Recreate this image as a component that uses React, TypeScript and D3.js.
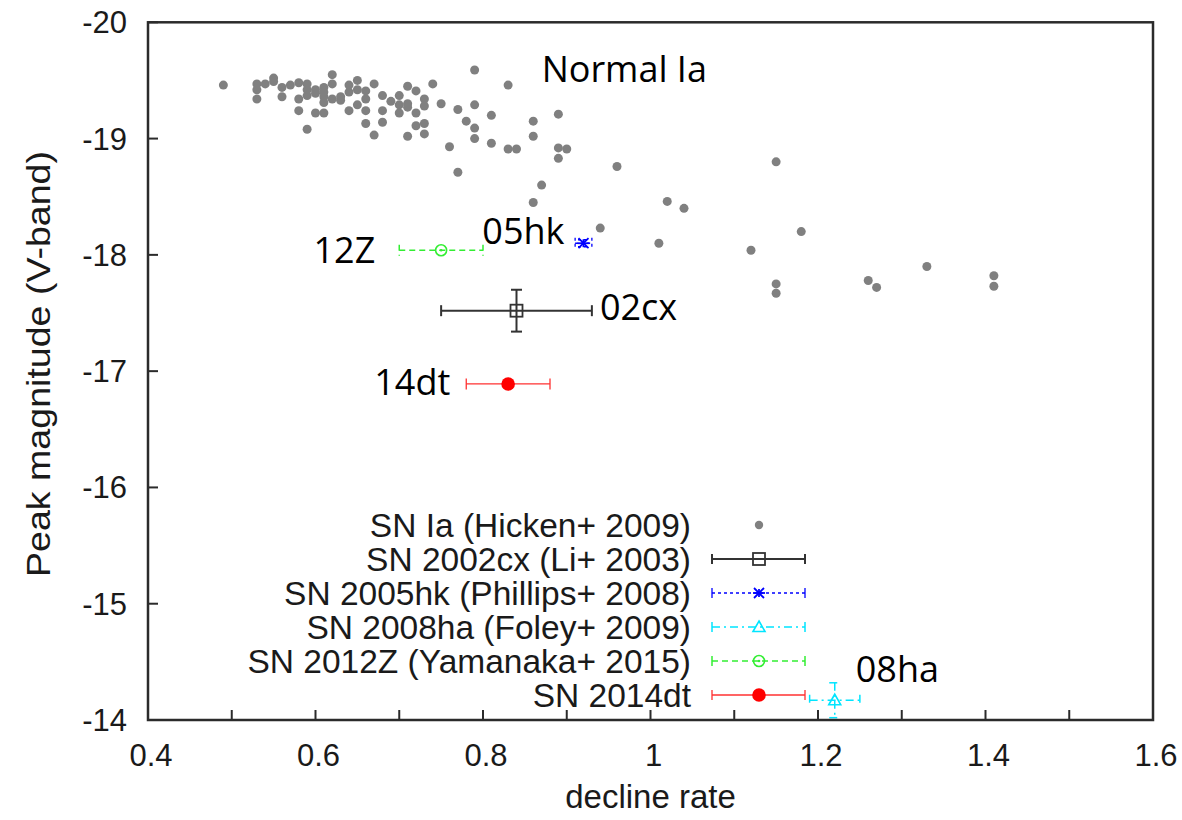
import React from 'react';
import * as d3 from 'd3';

// ---- Data ----
const iaDecline = [
  0.49, 0.53, 0.53, 0.53, 0.54, 0.55, 0.55, 0.56, 0.56, 0.57, 0.58, 0.58, 0.58, 0.59, 0.59, 0.59, 0.59,
  0.60, 0.60, 0.60, 0.61, 0.61, 0.61, 0.61, 0.61, 0.62, 0.62, 0.62, 0.63, 0.63, 0.64, 0.64, 0.64,
  0.65, 0.65, 0.65, 0.66, 0.66, 0.66, 0.66, 0.67, 0.67, 0.68, 0.68, 0.68, 0.69, 0.70, 0.70, 0.70,
  0.71, 0.71, 0.71, 0.71, 0.72, 0.72, 0.72, 0.73, 0.73, 0.73, 0.73, 0.74, 0.75, 0.76, 0.77, 0.77,
  0.78, 0.79, 0.79, 0.79, 0.79, 0.81, 0.81, 0.83, 0.83, 0.84, 0.86, 0.86, 0.86, 0.87, 0.89, 0.89,
  0.89, 0.90, 0.94, 0.96, 1.01, 1.02, 1.04, 1.12, 1.15, 1.15, 1.15, 1.18, 1.26, 1.27, 1.33, 1.41, 1.41,
];
const iaMag = [
  -19.46, -19.47, -19.42, -19.34, -19.47, -19.52, -19.49, -19.44, -19.36, -19.46, -19.48, -19.34, -19.24, -19.47, -19.42, -19.37, -19.08,
  -19.42, -19.39, -19.22, -19.44, -19.40, -19.36, -19.31, -19.22, -19.55, -19.47, -19.34, -19.36, -19.33, -19.46, -19.40, -19.24,
  -19.50, -19.42, -19.29, -19.41, -19.34, -19.24, -19.13, -19.47, -19.03, -19.37, -19.24, -19.14, -19.32, -19.37, -19.29, -19.22,
  -19.45, -19.30, -19.27, -19.02, -19.41, -19.22, -19.11, -19.34, -19.28, -19.13, -19.04, -19.47, -19.30, -18.93, -19.25, -18.71,
  -19.15, -19.59, -19.29, -19.09, -19.00, -19.20, -18.96, -19.46, -18.91, -18.91, -19.15, -19.02, -18.45, -18.60, -19.21, -18.92,
  -18.83, -18.91, -18.23, -18.76, -18.10, -18.46, -18.40, -18.04, -18.80, -17.75, -17.67, -18.20, -17.78, -17.72, -17.90, -17.82, -17.73,
];

const snNames = ['02cx', '05hk', '08ha', '12Z', '14dt'];
const snDecline = [0.84, 0.92, 1.22, 0.75, 0.83];
const snMag = [-17.52, -18.10, -14.17, -18.04, -16.89];
const snDeclineErr = [0.09, 0.01, 0.03, 0.05, 0.05];
const snMagErr = [0.18, 0.03, 0.15, 0, 0];

const legendLabels = [
  'SN Ia (Hicken+ 2009)',
  'SN 2002cx (Li+ 2003)',
  'SN 2005hk (Phillips+ 2008)',
  'SN 2008ha (Foley+ 2009)',
  'SN 2012Z (Yamanaka+ 2015)',
  'SN 2014dt',
];

const xTicks = [0.4, 0.5, 0.6, 0.7, 0.8, 0.9, 1.0, 1.1, 1.2, 1.3, 1.4, 1.5, 1.6];
const xTickLabels = ['0.4', '', '0.6', '', '0.8', '', '1', '', '1.2', '', '1.4', '', '1.6'];
const yTicks = [-20, -19, -18, -17, -16, -15, -14];

const normalLabel = { text: 'Normal Ia', d: 0.87, m: -19.49 };

// ---- Styles ----
type Sty = { color: string; dash: string; width: number; marker: string };
const snStyles: Sty[] = [
  { color: '#333333', dash: '', width: 2, marker: 'square' },
  { color: '#0000ff', dash: '3,3', width: 1.3, marker: 'star' },
  { color: '#00e5ff', dash: '8,4,2,4', width: 1.5, marker: 'triangle' },
  { color: '#33ee33', dash: '6,4', width: 1.5, marker: 'circle' },
  { color: '#ff3030', dash: '', width: 1.3, marker: 'dot' },
];
// legend order: Ia, 02cx, 05hk, 08ha, 12Z, 14dt
const legendSeries = [-1, 0, 1, 2, 3, 4];

const W = 1182;
const H = 820;
const L = 148, R = 1153, T = 22.3, B = 720;

const x = d3.scaleLinear().domain([0.4, 1.6]).range([L, R]);
const y = d3.scaleLinear().domain([-20, -14]).range([T, B]);

const TICK_FONT = '"Liberation Sans", Arial, Helvetica, sans-serif';
const ANN_FONT = '"Open Sans", "Noto Sans", sans-serif';

function Marker({ cx, cy, sty }: { cx: number; cy: number; sty: Sty }) {
  const c = sty.color;
  switch (sty.marker) {
    case 'square':
      return <rect x={cx - 6} y={cy - 6} width={12} height={12} fill="none" stroke={c} strokeWidth={1.8} />;
    case 'star':
      return (
        <g stroke={c} strokeWidth={1.8}>
          <line x1={cx - 6} y1={cy} x2={cx + 6} y2={cy} />
          <line x1={cx - 5} y1={cy - 5} x2={cx + 5} y2={cy + 5} />
          <line x1={cx - 5} y1={cy + 5} x2={cx + 5} y2={cy - 5} />
          <line x1={cx} y1={cy - 4} x2={cx} y2={cy + 4} />
        </g>
      );
    case 'triangle':
      return (
        <path
          d={`M${cx},${cy - 6} L${cx + 6},${cy + 4.5} L${cx - 6},${cy + 4.5} Z`}
          fill="none"
          stroke={c}
          strokeWidth={1.6}
        />
      );
    case 'circle':
      return (
        <g>
          <circle cx={cx} cy={cy} r={5.5} fill="none" stroke={c} strokeWidth={1.6} />
          <circle cx={cx} cy={cy} r={1.3} fill={c} />
        </g>
      );
    case 'dot':
      return <circle cx={cx} cy={cy} r={6.8} fill="#ff0000" />;
    default:
      return <circle cx={cx} cy={cy} r={4.5} fill="#808080" />;
  }
}

function ErrorBars({ i }: { i: number }) {
  const sty = snStyles[i];
  const px = x(snDecline[i]);
  const py = y(snMag[i]);
  const x0 = x(snDecline[i] - snDeclineErr[i]);
  const x1 = x(snDecline[i] + snDeclineErr[i]);
  const cap = 5.5;
  const parts: any[] = [];
  parts.push(<line key="h" x1={x0} y1={py} x2={x1} y2={py} />);
  parts.push(<line key="c0" x1={x0} y1={py - cap} x2={x0} y2={py + cap} strokeDasharray="" />);
  parts.push(<line key="c1" x1={x1} y1={py - cap} x2={x1} y2={py + cap} strokeDasharray="" />);
  if (snMagErr[i] > 0) {
    const y0 = y(snMag[i] - snMagErr[i]);
    const y1 = y(snMag[i] + snMagErr[i]);
    parts.push(<line key="v" x1={px} y1={y0} x2={px} y2={y1} />);
    parts.push(<line key="d0" x1={px - cap} y1={y0} x2={px + cap} y2={y0} strokeDasharray="" />);
    parts.push(<line key="d1" x1={px - cap} y1={y1} x2={px + cap} y2={y1} strokeDasharray="" />);
  }
  return (
    <g stroke={sty.color} strokeWidth={sty.width} strokeDasharray={sty.dash || undefined} fill="none">
      {parts}
    </g>
  );
}

export default function App() {
  const legX0 = 712, legX1 = 805, legMid = 759, legTextX = 691;
  const legY0 = 525, legDy = 34;

  const i02 = 0, i05 = 1, i08 = 2, i12 = 3, i14 = 4;

  return (
    <svg
      width={W}
      height={H}
      viewBox={`0 0 ${W} ${H}`}
      style={{ position: 'absolute', left: 0, top: 0, background: '#fff' }}
    >
      <rect x={0} y={0} width={W} height={H} fill="#fff" />

      {/* Ia points */}
      <g>
        {iaDecline.map((d, k) => (
          <circle key={k} cx={x(d)} cy={y(iaMag[k])} r={4.5} fill="#808080" />
        ))}
      </g>

      {/* Special SNe */}
      {snNames.map((n, i) => (
        <g key={n}>
          <ErrorBars i={i} />
          <Marker cx={x(snDecline[i])} cy={y(snMag[i])} sty={snStyles[i]} />
        </g>
      ))}

      {/* Frame */}
      <rect x={L} y={T} width={R - L} height={B - T} fill="none" stroke="#2b2b2b" strokeWidth={2.5} />

      {/* Ticks */}
      <g stroke="#2b2b2b" strokeWidth={2}>
        {xTicks.map((t) => (
          <line key={t} x1={x(t)} y1={B} x2={x(t)} y2={B - 10} />
        ))}
        {yTicks.map((t) => (
          <line key={t} x1={L} y1={y(t)} x2={L + 10} y2={y(t)} />
        ))}
      </g>
      <g fontFamily={TICK_FONT} fontSize={31} fill="#1a1a1a">
        {xTicks.map((t, k) =>
          xTickLabels[k] ? (
            <text key={t} x={x(t) + 3} y={766} textAnchor="middle">
              {xTickLabels[k]}
            </text>
          ) : null
        )}
        {yTicks.map((t) => (
          <text key={t} x={127} y={y(t) + 11} textAnchor="end">
            {String(t)}
          </text>
        ))}
      </g>

      {/* Axis titles */}
      <text x={(L + R) / 2} y={808} textAnchor="middle" fontFamily={TICK_FONT} fontSize={33} fill="#1a1a1a">
        decline rate
      </text>
      <text
        transform={`translate(50, 364) rotate(-90)`}
        textAnchor="middle"
        fontFamily={TICK_FONT}
        fontSize={33}
        fill="#1a1a1a"
        textLength={426}
        lengthAdjust="spacingAndGlyphs"
      >
        Peak magnitude (V-band)
      </text>

      {/* Legend */}
      <g fontFamily={TICK_FONT} fontSize={33.5} fill="#1a1a1a">
        {legendLabels.map((lab, r) => {
          const cy = legY0 + r * legDy;
          const si = legendSeries[r];
          return (
            <g key={lab}>
              <text x={legTextX} y={cy + 11.5} textAnchor="end">
                {lab}
              </text>
              {si < 0 ? (
                <circle cx={legMid} cy={cy} r={4.2} fill="#808080" />
              ) : (
                <g>
                  <g stroke={snStyles[si].color} strokeWidth={snStyles[si].width} fill="none">
                    <line x1={legX0} y1={cy} x2={legX1} y2={cy} strokeDasharray={snStyles[si].dash || undefined} />
                    <line x1={legX0} y1={cy - 5} x2={legX0} y2={cy + 5} />
                    <line x1={legX1} y1={cy - 5} x2={legX1} y2={cy + 5} />
                  </g>
                  <Marker cx={legMid} cy={cy} sty={snStyles[si]} />
                </g>
              )}
            </g>
          );
        })}
      </g>

      {/* Annotations */}
      <g fontFamily={ANN_FONT} fontSize={36} fill="#000">
        <text x={x(normalLabel.d)} y={y(normalLabel.m)}>
          {normalLabel.text}
        </text>
        <text x={x(snDecline[i02] + snDeclineErr[i02]) + 8} y={y(snMag[i02]) + 9}>
          {snNames[i02]}
        </text>
        <text x={x(snDecline[i05]) - 19} y={y(snMag[i05]) + 1} textAnchor="end">
          {snNames[i05]}
        </text>
        <text x={x(snDecline[i08]) + 21} y={y(snMag[i08]) - 18}>
          {snNames[i08]}
        </text>
        <text x={x(snDecline[i12] - snDeclineErr[i12]) - 24} y={y(snMag[i12]) + 13} textAnchor="end">
          {snNames[i12]}
        </text>
        <text x={x(snDecline[i14] - snDeclineErr[i14]) - 16} y={y(snMag[i14]) + 11} textAnchor="end">
          {snNames[i14]}
        </text>
      </g>
    </svg>
  );
}
